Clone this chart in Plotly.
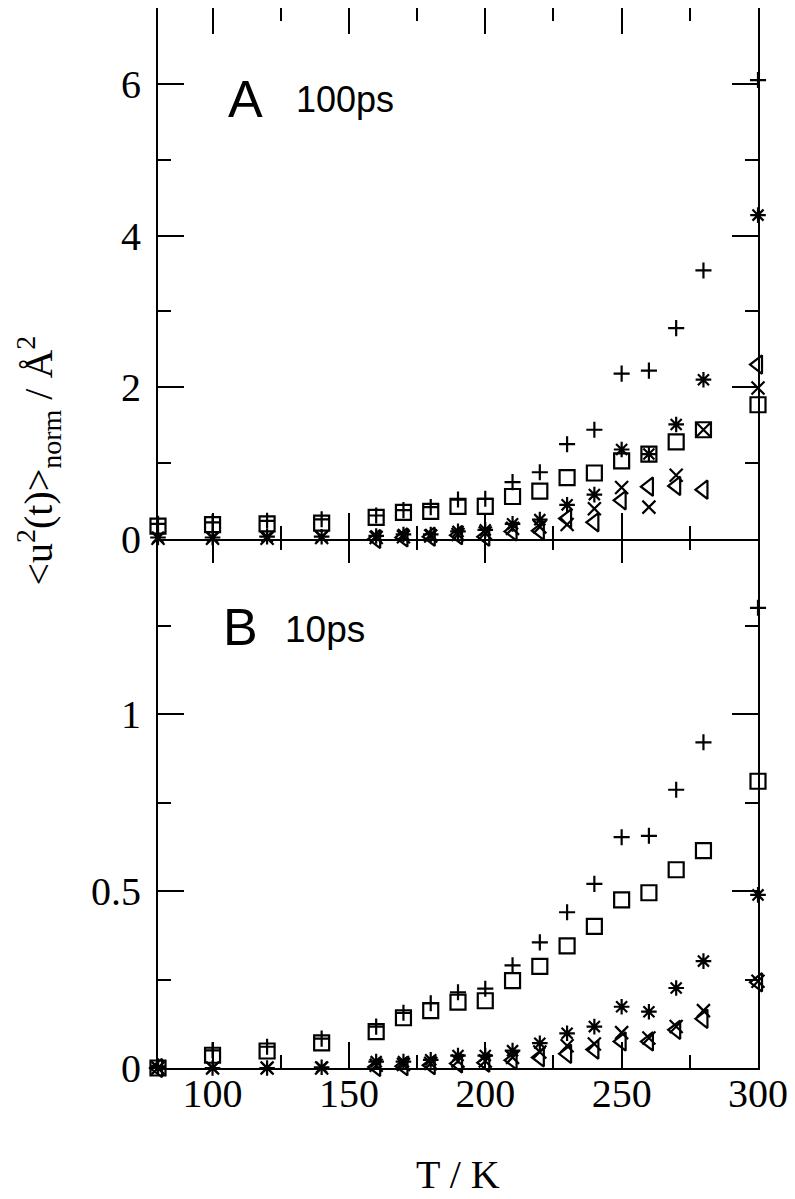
import plotly.graph_objects as go

# temperatures (K)
temps = [80, 100, 120, 140, 160, 170, 180, 190, 200, 210, 220, 230, 240, 250, 260, 270, 280, 300]

# panel A, 100ps
plus_a = [0.20, 0.22, 0.24, 0.26, 0.31, 0.38, 0.42, 0.52, 0.53, 0.75, 0.88, 1.25, 1.44, 2.18, 2.22, 2.78, 3.54, 6.05]
square_a = [0.17, 0.19, 0.20, 0.21, 0.285, 0.35, 0.365, 0.43, 0.43, 0.56, 0.63, 0.81, 0.87, 1.03, 1.12, 1.28, 1.44, 1.77]
star_a = [0.02, 0.02, 0.03, 0.03, 0.04, 0.06, 0.06, 0.10, 0.12, 0.20, 0.255, 0.45, 0.585, 1.18, 1.12, 1.51, 2.10, 4.27]
cross_a = [0.01, 0.01, 0.01, 0.02, 0.02, 0.03, 0.04, 0.06, 0.08, 0.14, 0.16, 0.19, 0.40, 0.68, 0.42, 0.84, 1.44, 1.99]
tri_a = [-0.02, -0.02, -0.01, -0.01, 0.0, 0.02, 0.03, 0.05, 0.03, 0.10, 0.11, 0.27, 0.22, 0.51, 0.69, 0.70, 0.65, 2.30]

# panel B, 10ps
plus_b = [0.005, 0.05, 0.06, 0.083, 0.117, 0.156, 0.183, 0.214, 0.224, 0.29, 0.355, 0.44, 0.52, 0.652, 0.656, 0.786, 0.92, 1.30]
square_b = [0.0, 0.036, 0.048, 0.071, 0.103, 0.142, 0.162, 0.186, 0.19, 0.247, 0.287, 0.345, 0.40, 0.475, 0.495, 0.56, 0.614, 0.81]
star_b = [0.0, 0.0, 0.0, 0.002, 0.018, 0.018, 0.023, 0.035, 0.035, 0.049, 0.07, 0.098, 0.117, 0.173, 0.159, 0.226, 0.302, 0.489]
cross_b = [0.0, 0.0, 0.0, 0.0, 0.008, 0.01, 0.013, 0.02, 0.02, 0.03, 0.045, 0.063, 0.068, 0.10, 0.085, 0.117, 0.162, 0.245]
tri_b = [0.0, -0.005, -0.005, -0.005, 0.003, 0.005, 0.008, 0.013, 0.015, 0.022, 0.03, 0.04, 0.052, 0.075, 0.075, 0.108, 0.139, 0.242]

ticks_a = [0, 2, 4, 6]
ticks_b = [0, 0.5, 1]
ticks_b_text = ['0', '0.5', '1']

serif = 'Liberation Serif'
sans = 'Liberation Sans'

series = [
    ('cross-thin-open', 11.5, plus_a, plus_b),
    ('square-open', 15, square_a, square_b),
    ('asterisk-open', 13, star_a, star_b),
    ('x-thin-open', 13, cross_a, cross_b),
    ('triangle-left-open', 16, tri_a, tri_b),
]

fig = go.Figure()
for sym, sz, ya, yb in series:
    mk = dict(symbol=sym, size=sz, color='black', line=dict(width=2.2, color='black'))
    fig.add_trace(go.Scatter(x=temps, y=ya, mode='markers', marker=mk,
                             xaxis='x2', yaxis='y2', cliponaxis=False))
    fig.add_trace(go.Scatter(x=temps, y=yb, mode='markers', marker=mk,
                             xaxis='x', yaxis='y', cliponaxis=False))

axis_style = dict(ticks='inside', ticklen=26, tickwidth=2, tickcolor='black',
                  showline=True, linewidth=2, linecolor='black', mirror='ticks',
                  showgrid=False, zeroline=False,
                  tickfont=dict(family=serif, size=40, color='black'))

# panels overlap by 2px so the shared middle line is drawn once
ov = 1 / 1060

# page body adds 8px on the left/top, so the figure is 8px smaller
fig.update_layout(
    width=787, height=1191,
    margin=dict(l=150, r=37, t=0, b=131, autoexpand=False),
    plot_bgcolor='white', paper_bgcolor='white',
    showlegend=False,
    xaxis=dict(domain=[0, 1], anchor='y', range=[80, 300], tick0=0, dtick=50,
               ticklabelstandoff=-11, ticklabeloverflow='allow',
               minor=dict(ticks='inside', ticklen=13, tickwidth=2, tickcolor='black', dtick=25, tick0=0),
               **axis_style),
    xaxis2=dict(domain=[0, 1], anchor='y2', matches='x', range=[80, 300], tick0=0, dtick=50,
                showticklabels=False,
                minor=dict(ticks='inside', ticklen=13, tickwidth=2, tickcolor='black', dtick=25, tick0=0),
                **axis_style),
    yaxis=dict(domain=[0, 0.5 + ov], anchor='x', range=[0, 1.5], tickmode='array',
               tickvals=ticks_b, ticktext=ticks_b_text, ticklabelstandoff=7,
               minor=dict(ticks='inside', ticklen=13, tickwidth=2, tickcolor='black', dtick=0.25, tick0=0),
               **axis_style),
    yaxis2=dict(domain=[0.5 - ov, 1], anchor='x2', range=[0, 7], tickmode='array',
                tickvals=ticks_a, ticklabelstandoff=7,
                minor=dict(ticks='inside', ticklen=13, tickwidth=2, tickcolor='black', dtick=1, tick0=0),
                **axis_style),
)

fig.add_annotation(text='A', x=105.0, y=5.80, xref='x2', yref='y2', xanchor='left', yanchor='middle',
                   showarrow=False, font=dict(family=sans, size=52, color='black'))
fig.add_annotation(text='100ps', x=130.0, y=5.79, xref='x2', yref='y2', xanchor='left', yanchor='middle',
                   showarrow=False, font=dict(family=sans, size=36, color='black'))
fig.add_annotation(text='B', x=103.2, y=1.245, xref='x', yref='y', xanchor='left', yanchor='middle',
                   showarrow=False, font=dict(family=sans, size=52, color='black'))
fig.add_annotation(text='10ps', x=126, y=1.24, xref='x', yref='y', xanchor='left', yanchor='middle',
                   showarrow=False, font=dict(family=sans, size=37, color='black'))

fig.add_annotation(text='T / K', x=0.5, y=-0.1, xref='paper', yref='paper', xanchor='center', yanchor='middle',
                   showarrow=False, font=dict(family=serif, size=40, color='black'))
fig.add_annotation(text='&lt;u<sup>2</sup>(t)&gt;<sub>norm</sub> / Å<sup>2</sup>', textangle=-90,
                   x=-0.2, y=0.573, xref='paper', yref='paper', xanchor='center', yanchor='middle',
                   showarrow=False, font=dict(family=serif, size=40, color='black'))

fig.write_html('out.html')
